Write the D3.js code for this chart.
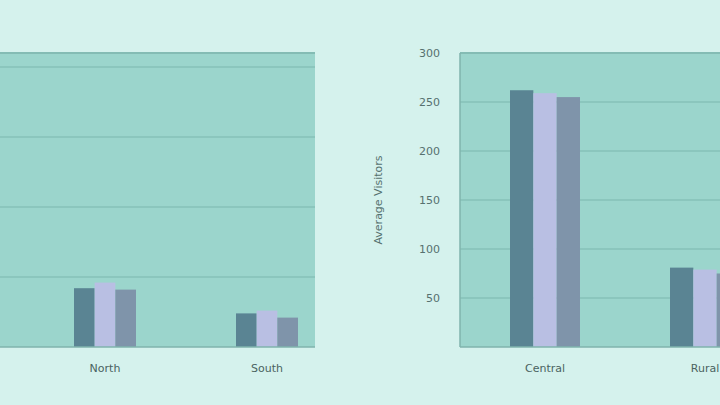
<!DOCTYPE html>
<html>
<head>
<meta charset="utf-8">
<script src="https://cdn.jsdelivr.net/npm/d3@7"></script>
<style>
  html, body { margin: 0; padding: 0; background: #d5f2ed; }
  svg { display: block; font-family: "DejaVu Sans", sans-serif; }
</style>
</head>
<body>
<svg id="chart" width="720" height="405"></svg>
<script>
// ---- data ----
const seriesNames = ["Series A", "Series B", "Series C"];
const leftCategories = ["North", "South"];
const leftValues = [
  [42, 46, 41],
  [24, 26, 21]
];
const rightCategories = ["Central", "Rural"];
const rightValues = [
  [262, 259, 255],
  [81, 79, 75]
];
const leftTicks = [50, 100, 150, 200];
const rightTicks = [50, 100, 150, 200, 250, 300];
const yTitle = "Average Visitors";

// ---- styles ----
const colors = ["#5a8493", "#b9bfe3", "#7f94aa"];
const plotBg = "#9bd5cc";
const gridColor = "#86c0b8";

const svg = d3.select("#chart");
svg.append("rect").attr("width", 720).attr("height", 405).attr("fill", "#d5f2ed");

function panel(opts) {
  const g = svg.append("g");
  const y = d3.scaleLinear().domain(opts.yDomain).range([347, 53]);
  const x = d3.scaleBand().domain(opts.categories).range(opts.xRange);
  const xs = d3.scaleBand().domain(seriesNames).range([0, opts.groupWidth]);

  g.append("rect")
    .attr("x", opts.plotX0).attr("y", 53)
    .attr("width", opts.plotX1 - opts.plotX0).attr("height", 294)
    .attr("fill", plotBg);

  g.append("g").selectAll("line").data(opts.ticks).join("line")
    .attr("x1", opts.plotX0).attr("x2", opts.plotX1)
    .attr("y1", d => y(d)).attr("y2", d => y(d))
    .attr("stroke", gridColor).attr("stroke-width", 1.5);

  g.append("line").attr("x1", opts.plotX0).attr("x2", opts.plotX1)
    .attr("y1", 53).attr("y2", 53).attr("stroke", "#84bcb4").attr("stroke-width", 2);

  const groups = g.append("g").selectAll("g").data(opts.values).join("g")
    .attr("transform", (d, i) => `translate(${x(opts.categories[i]) + (x.bandwidth() - opts.groupWidth) / 2},0)`);
  groups.selectAll("rect").data(d => d.map((v, j) => ({ v, s: seriesNames[j] }))).join("rect")
    .attr("x", d => xs(d.s))
    .attr("width", xs.bandwidth())
    .attr("y", d => y(d.v))
    .attr("height", d => y(0) - y(d.v))
    .attr("fill", (d, j) => colors[j]);

  g.append("line").attr("x1", opts.plotX0).attr("x2", opts.plotX1)
    .attr("y1", 347).attr("y2", 347).attr("stroke", "#7fb3ad").attr("stroke-width", 1.5);

  g.append("g").selectAll("text").data(opts.categories).join("text")
    .attr("x", d => x(d) + x.bandwidth() / 2)
    .attr("y", 372)
    .attr("text-anchor", "middle")
    .attr("font-size", 11)
    .attr("fill", "#4a6361")
    .text(d => d);

  return { x, y };
}

panel({
  categories: leftCategories, values: leftValues, yDomain: [0, 210],
  xRange: [24, 348], groupWidth: 62, plotX0: -5, plotX1: 315, ticks: leftTicks
});

const right = panel({
  categories: rightCategories, values: rightValues, yDomain: [0, 300],
  xRange: [465, 785], groupWidth: 70, plotX0: 460, plotX1: 725, ticks: rightTicks
});

const axis = d3.axisLeft(right.y).tickValues(rightTicks).tickSize(0).tickPadding(10);
const ag = svg.append("g").attr("transform", "translate(450,0)").call(axis);
ag.select(".domain").remove();
ag.selectAll("text").attr("font-size", 11).attr("fill", "#56716f").attr("font-family", "DejaVu Sans, sans-serif");
svg.append("line").attr("x1", 460).attr("x2", 460).attr("y1", 53).attr("y2", 347)
  .attr("stroke", "#7fb3ad").attr("stroke-width", 1.5);

svg.append("text")
  .attr("transform", "translate(382,200) rotate(-90)")
  .attr("text-anchor", "middle")
  .attr("font-size", 11)
  .attr("fill", "#56716f")
  .text(yTitle);
</script>
</body>
</html>
